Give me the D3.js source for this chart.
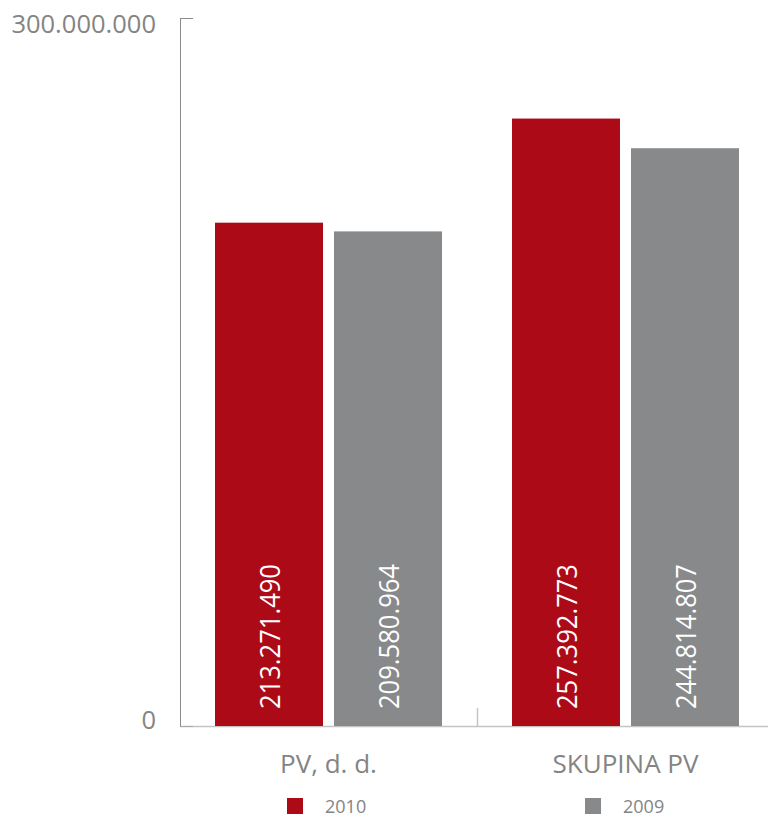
<!DOCTYPE html>
<html><head><meta charset="utf-8">
<script src="https://cdn.jsdelivr.net/npm/d3@7"></script>
<style>body{margin:0;background:#fff}svg{display:block}</style>
</head><body><svg id="c" width="768" height="817"></svg>
<script>
const categories = ["PV, d. d.", "SKUPINA PV"];
const seriesNames = ["2010", "2009"];
const values2010 = [213271490, 257392773];
const values2009 = [209580964, 244814807];
const yTicks = [0, 300000000];
const tickLabels = ["0", "300.000.000"];
const colors = ["#ad0a18", "#88898b"];

const svg = d3.select("#c");
const y = d3.scaleLinear().domain([0, 300000000]).range([726, 18]);
const x0 = d3.scaleBand().domain(categories).range([180, 774]).paddingInner(0).paddingOuter(0);
const x1 = d3.scaleBand().domain(seriesNames).range([35, 262]).paddingInner(11/119);
const fmt = v => d3.format(",")(v).replace(/,/g, ".");
const series = [values2010, values2009];
const font = "'Open Sans', sans-serif";

// baseline
svg.append("line").attr("x1", 180).attr("x2", 768).attr("y1", y(0)+0.5).attr("y2", y(0)+0.5)
  .attr("stroke", "#c4c4c4").attr("stroke-width", 1.5);
// y axis
svg.append("line").attr("x1", 180.5).attr("x2", 180.5).attr("y1", y(300000000)).attr("y2", y(0)+1)
  .attr("stroke", "#8a8a8a").attr("stroke-width", 1);
yTicks.forEach((t, i) => {
  svg.append("line").attr("x1", 180).attr("x2", 193).attr("y1", y(t)+0.5).attr("y2", y(t)+0.5)
    .attr("stroke", i === 0 ? "#a8a8a8" : "#8a8a8a").attr("stroke-width", 1);
  svg.append("text").attr("x", 156).attr("y", y(t) + (i === 0 ? 3 : 15))
    .attr("text-anchor", "end").attr("font-family", font).attr("font-size", 25.5)
    .attr("fill", "#848484").text(tickLabels[i]);
});
// category separator tick
svg.append("line").attr("x1", 477.5).attr("x2", 477.5).attr("y1", 708).attr("y2", 726)
  .attr("stroke", "#c4c4c4").attr("stroke-width", 1.5);

categories.forEach((c, ci) => {
  const g = svg.append("g").attr("transform", `translate(${x0(c)},0)`);
  seriesNames.forEach((s, si) => {
    const v = series[si][ci];
    const bx = x1(s), bw = x1.bandwidth();
    g.append("rect").attr("x", bx).attr("y", y(v)).attr("width", bw).attr("height", y(0) - y(v))
      .attr("fill", colors[si]);
    g.append("text")
      .attr("transform", `translate(${bx + bw/2 + 11},${y(0) - 17}) rotate(-90)`)
      .attr("font-family", font).attr("font-size", 27).attr("fill", "#fff")
      .attr("textLength", 145).attr("lengthAdjust", "spacingAndGlyphs")
      .text(fmt(v));
  });
  svg.append("text").attr("x", x0(c) + 35 + 227/2).attr("y", 773)
    .attr("text-anchor", "middle").attr("font-family", font).attr("font-size", 26)
    .attr("fill", "#848484").text(c);
});

// legend
const legX = [287, 585];
seriesNames.forEach((s, i) => {
  svg.append("rect").attr("x", legX[i]).attr("y", 798).attr("width", 16).attr("height", 16).attr("fill", colors[i]);
  svg.append("text").attr("x", legX[i] + 38).attr("y", 813).attr("font-family", font)
    .attr("font-size", 18).attr("fill", "#848484").text(s);
});
</script></body></html>
